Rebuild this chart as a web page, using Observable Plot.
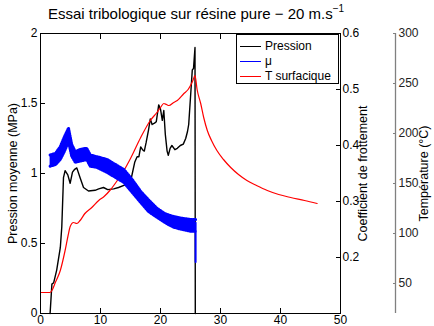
<!DOCTYPE html>
<html><head><meta charset="utf-8">
<script src="https://cdn.jsdelivr.net/npm/d3@7"></script>
<script src="https://cdn.jsdelivr.net/npm/@observablehq/plot@0.6"></script>
<style>
body{margin:0;background:#fff;font-family:"Liberation Sans",Arial,sans-serif;}
#wrap{position:relative;width:434px;height:326px;overflow:hidden;}
#title{position:absolute;left:0;width:392px;top:5px;line-height:17px;text-align:center;font-size:15px;color:#000;white-space:nowrap;}
#title sup{font-size:10px;vertical-align:7px;line-height:0;}
#legend{position:absolute;left:236px;top:34px;width:101px;height:48px;border:1px solid #000;background:#fff;font-size:12px;}
.row{position:absolute;left:3px;height:14px;line-height:14px;}
.row span.ln{position:absolute;left:0;top:7px;width:21px;height:0;border-top:1.3px solid;}
.row span.tx{position:absolute;left:25px;top:0;white-space:nowrap;}
</style></head>
<body><div id="wrap">
<div id="chart"></div>
<div id="title">Essai tribologique sur résine pure − 20 m.s<sup>−1</sup></div>
<div id="legend"></div>
</div>
<script>
// ---- data ----
const seriesNames = ["Pression", "μ", "T surfacique"];
const seriesColors = ["#000000", "#0000ff", "#ff0000"];

const time_p = [1.6,1.9,2.2,2.7,3.3,3.55,3.83,4.1,4.55,4.94,5.33,5.7,6.05,6.6,7.17,8.0,9.1,9.7,10.5,11.2,12.2,13.0,13.9,15.0,15.3,15.7,16.1,16.4,16.7,17.0,17.3,17.6,18.0,18.3,18.6,19.0,19.3,19.7,20.0,20.3,20.55,20.8,21.1,21.3,21.6,21.9,22.4,22.8,23.3,23.8,24.2,24.5,24.7,25.0,25.3,25.5,25.75,25.8];
const pression = [0,0.21,0.22,0.31,0.47,0.62,0.97,1.02,0.99,0.93,1.01,1.03,1.04,0.97,0.90,0.875,0.88,0.89,0.90,0.885,0.89,0.90,0.915,0.94,1.0,1.08,1.12,1.12,1.19,1.17,1.16,1.22,1.31,1.39,1.35,1.36,1.37,1.49,1.46,1.38,1.45,1.28,1.16,1.13,1.18,1.2,1.17,1.18,1.2,1.21,1.25,1.30,1.35,1.545,1.74,1.75,1.9,0];

const time_mu = [1.6,2.5,3.3,4.0,4.67,5.2,5.8,6.6,7.7,8.3,9.4,11.1,12.5,13.9,15.3,16.7,18.0,19.4,20.8,22.2,23.6,25.0,25.85];
const mu_lo = [0.363,0.366,0.375,0.390,0.407,0.381,0.370,0.372,0.375,0.363,0.361,0.352,0.343,0.334,0.316,0.298,0.282,0.272,0.262,0.254,0.250,0.247,0.247];
const mu_hi = [0.383,0.386,0.398,0.416,0.431,0.402,0.389,0.393,0.395,0.383,0.380,0.375,0.366,0.357,0.339,0.318,0.303,0.288,0.278,0.273,0.270,0.268,0.268];
const time_mu_drop = [25.85,25.85];
const mu_drop = [0.262,0.192];

const time_T = [0,1.6,2.0,2.4,3.3,4.1,4.6,4.95,5.5,6.05,6.6,7.4,8.55,9.7,10.6,11.7,12.8,13.9,15.0,16.7,18.3,19.4,20.0,20.55,21.0,21.4,22.2,22.8,23.9,24.6,25.0,25.4,25.75,26.1,26.7,27.2,27.8,28.5,29.4,30.5,31.7,33.0,34.4,36.0,37.8,39.7,41.7,44.0,46.1];
const temperature = [41,41,44,50,63,83,98,107,111,110,113,120,126,133,137,144,153,163,175,196,213,221,226,230,229,228,231,233,240,244,248,253,258,244,230,216,203,193,183,174,166,159,153,148,143,139,136,133,130];

const xTicks = [0,10,20,30,40,50];
const pTicks = [0,0.5,1,1.5,2];
const muTicks = [0.2,0.3,0.4,0.5,0.6];
const tTicks = [50,100,150,200,250,300];
const muDomain = [0.1,0.6];
const tDomain = [20,300];
const pDomain = [0,2];

// ---- build ----
const muToY = d3.scaleLinear(muDomain, pDomain);
const tToY = d3.scaleLinear(tDomain, pDomain);

const P = time_p.map((t,i)=>({t, v: pression[i]}));
const MU = time_mu.map((t,i)=>({t, lo: muToY(mu_lo[i]), hi: muToY(mu_hi[i])}));
const MUD = time_mu_drop.map((t,i)=>({t, v: muToY(mu_drop[i])}));
const T = time_T.map((t,i)=>({t, v: tToY(temperature[i])}));

const font = '"Liberation Sans", Arial, sans-serif';
const fuzz = {stroke: seriesColors[1], strokeWidth: 3, strokeDasharray: "1 1.3"};

const chart = Plot.plot({
  width: 434, height: 326,
  marginLeft: 40, marginRight: 94, marginTop: 33, marginBottom: 13,
  style: {fontFamily: font, fontSize: "12px", color: "#000", background: "transparent", overflow: "visible"},
  x: {domain: [0,50]},
  y: {domain: pDomain},
  marks: [
    Plot.line(P, {x: "t", y: "v", stroke: seriesColors[0], strokeWidth: 1.4}),
    Plot.line(T, {x: "t", y: "v", stroke: seriesColors[2], strokeWidth: 1.2, curve: "monotone-x"}),
    Plot.areaY(MU, {x: "t", y1: "lo", y2: "hi", fill: seriesColors[1]}),
    Plot.line(MU, {x: "t", y: "hi", ...fuzz}),
    Plot.line(MU, {x: "t", y: "lo", ...fuzz}),
    Plot.line(MUD, {x: "t", y: "v", stroke: seriesColors[1], strokeWidth: 2}),
    Plot.frame({stroke: "#000", strokeWidth: 1}),
    Plot.axisX({anchor: "bottom", ticks: xTicks, tickSize: -5, tickPadding: 6.5, tickFormat: d => String(d), label: null}),
    Plot.axisX({anchor: "top", ticks: xTicks, tickSize: -5, tickFormat: () => "", label: null}),
    Plot.axisY({anchor: "left", ticks: pTicks, tickSize: -5, tickPadding: 8, tickFormat: d => String(d), label: null}),
    Plot.axisY({anchor: "right", ticks: muTicks.map(muToY), tickSize: -5, tickPadding: 7, tickFormat: y => String(+muToY.invert(y).toFixed(1)), label: null}),
    Plot.ruleX([50], {x: d => d, y1: () => pDomain[0], y2: () => pDomain[1], dx: 55, stroke: "#808080", strokeWidth: 1.3}),
    Plot.axisY({anchor: "right", dx: 55, ticks: tTicks.map(tToY), tickSize: -3, tickPadding: 6, stroke: "#808080", fill: "#222", tickFormat: y => String(Math.round(tToY.invert(y))), label: null}),
    Plot.text(["Pression moyenne (MPa)"], {frameAnchor: "left", textAnchor: "middle", rotate: -90, dx: -28, fontSize: 12.5}),
    Plot.text(["Coefficient de frottement"], {frameAnchor: "right", textAnchor: "middle", rotate: -90, dx: 22, fontSize: 12.5}),
    Plot.text(["Température (°C)"], {frameAnchor: "right", textAnchor: "middle", rotate: -90, dx: 83, fontSize: 12.5})
  ]
});
document.getElementById("chart").appendChild(chart);

// legend
const lg = document.getElementById("legend");
seriesNames.forEach((n,i) => {
  const r = document.createElement("div");
  r.className = "row";
  r.style.top = (4 + i*15) + "px";
  r.innerHTML = `<span class="ln" style="border-color:${seriesColors[i]}"></span><span class="tx">${n}</span>`;
  lg.appendChild(r);
});
</script>
</body></html>
